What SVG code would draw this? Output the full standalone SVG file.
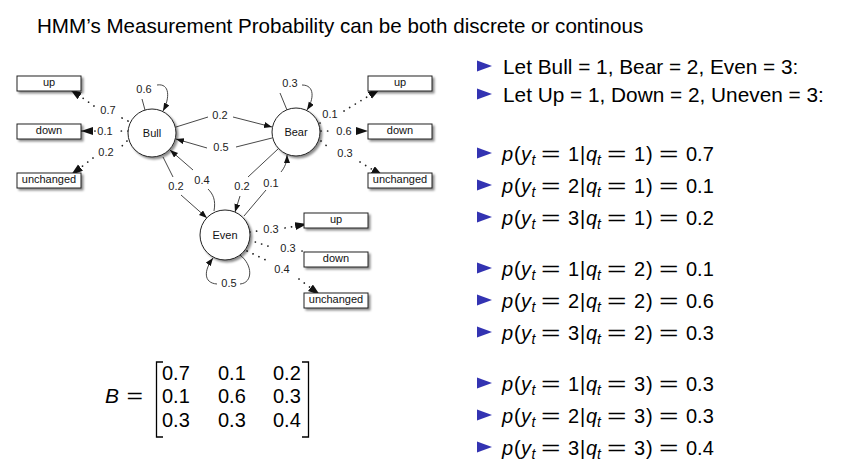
<svg xmlns="http://www.w3.org/2000/svg" width="844" height="467" viewBox="0 0 844 467">
<defs>
<style>
text{font-family:"Liberation Sans",Arial,Helvetica,sans-serif;fill:#000}
.title{font-size:20.6px}
.let{font-size:20.8px}
.eq text{font-size:20px}
.mi{font-style:italic}
.eq .sub{font-size:14px;font-style:italic}
.mat text{font-size:20px}
.lbl{font-size:11px;fill:#222;text-anchor:middle}
.node circle{fill:#fff;stroke:#222;stroke-width:1;filter:url(#sh)}
.box rect{fill:#fff;stroke:#222;stroke-width:1;filter:url(#sh)}
.node text,.box text{font-size:11px;text-anchor:middle;fill:#111}
.solid{fill:none;stroke:#333;stroke-width:0.9}
.dot{fill:none;stroke:#222;stroke-width:1.7;stroke-linecap:round;stroke-dasharray:0.1 6.5}
.brk{fill:none;stroke:#000;stroke-width:1.3}
.bul{fill:#3333b2}
</style>
<filter id="sh" x="-20%" y="-20%" width="150%" height="160%">
<feDropShadow dx="2" dy="2" stdDeviation="1" flood-color="#000" flood-opacity="0.45"/>
</filter>
<marker id="ah" markerUnits="userSpaceOnUse" markerWidth="9" markerHeight="7" refX="8" refY="3" orient="auto">
<path d="M0,0 L8,3 L0,6 z" fill="#111"/>
</marker>
<marker id="ahb" markerUnits="userSpaceOnUse" markerWidth="13" markerHeight="9" refX="12" refY="4" orient="auto">
<path d="M0,0 L12,4 L0,8 z" fill="#111"/>
</marker>
<polygon id="tri" class="bul" points="0,-5.5 15,0 0,5.5"/>
</defs>
<rect width="844" height="467" fill="#fff"/>

<text class="title" x="37" y="33">HMM’s Measurement Probability can be both discrete or continous</text>

<!-- connectors -->
<g id="connectors">
<!-- Bull self loop -->
<path class="solid" d="M145,110 L142,99"/>
<path class="solid" d="M157,85 C170,83 170,98 163,111" marker-end="url(#ah)"/>
<!-- Bear self loop -->
<path class="solid" d="M287,110 L280,93"/>
<path class="solid" d="M302,85 C315,85 314,99 307,110" marker-end="url(#ah)"/>
<!-- Even self loop -->
<path class="solid" d="M240,255 C253,265 253,283 240,284"/>
<path class="solid" d="M217,284 C203,283 204,270 213,258" marker-end="url(#ah)"/>
<!-- Bull -> Bear -->
<path class="solid" d="M176,127 L208,117"/>
<path class="solid" d="M233,117 L272,127" marker-end="url(#ah)"/>
<!-- Bear -> Bull -->
<path class="solid" d="M272,138 L236,147"/>
<path class="solid" d="M207,148 L176,139" marker-end="url(#ah)"/>
<!-- Bull -> Even -->
<path class="solid" d="M163,157 L173,177"/>
<path class="solid" d="M181,195 L207,218" marker-end="url(#ah)"/>
<!-- Even -> Bull -->
<path class="solid" d="M214,211 C216,200 213,194 208,189"/>
<path class="solid" d="M193,170 L170,150" marker-end="url(#ah)"/>
<!-- Bear -> Even -->
<path class="solid" d="M278,149 L248,177"/>
<path class="solid" d="M240,196 L235,212" marker-end="url(#ah)"/>
<!-- Even -> Bear -->
<path class="solid" d="M244,216 L266,190"/>
<path class="solid" d="M281,172 C285,167 287,162 287,155" marker-end="url(#ah)"/>

<!-- Bull emissions -->
<path class="dot" d="M128,121 L120,117"/>
<path class="dot" d="M94,106 L70,89" marker-end="url(#ahb)"/>
<path class="dot" d="M128,131 L118,131"/>
<path class="dot" d="M95,131 L81,131" marker-end="url(#ahb)"/>
<path class="dot" d="M127,141 L120,148"/>
<path class="dot" d="M93,158 L71,175" marker-end="url(#ahb)"/>
<!-- Bear emissions -->
<path class="dot" d="M320,123 L320.1,123"/>
<path class="dot" d="M344,111 L380,89" marker-end="url(#ahb)"/>
<path class="dot" d="M321,131 L331,131"/>
<path class="dot" d="M357,131 L368,131" marker-end="url(#ahb)"/>
<path class="dot" d="M321,141 L328,147"/>
<path class="dot" d="M360,162 L383,176" marker-end="url(#ahb)"/>
<!-- Even emissions -->
<path class="dot" d="M250,232 L258,231"/>
<path class="dot" d="M285,228 L307,224" marker-end="url(#ahb)"/>
<path class="dot" d="M249,240 L274,248"/>
<path class="dot" d="M302,251 L302.1,251"/>
<path class="dot" d="M247,251 L270,262"/>
<path class="dot" d="M299,279 L320,295" marker-end="url(#ahb)"/>

<!-- labels -->
<text class="lbl" x="144" y="93">0.6</text>
<text class="lbl" x="290" y="87">0.3</text>
<text class="lbl" x="229" y="287">0.5</text>
<text class="lbl" x="220" y="119">0.2</text>
<text class="lbl" x="221" y="151">0.5</text>
<text class="lbl" x="176" y="190">0.2</text>
<text class="lbl" x="202" y="184">0.4</text>
<text class="lbl" x="242" y="190">0.2</text>
<text class="lbl" x="271" y="187">0.1</text>
<text class="lbl" x="108" y="114">0.7</text>
<text class="lbl" x="105" y="135">0.1</text>
<text class="lbl" x="106" y="156">0.2</text>
<text class="lbl" x="330" y="118">0.1</text>
<text class="lbl" x="344" y="135">0.6</text>
<text class="lbl" x="345" y="157">0.3</text>
<text class="lbl" x="271" y="233">0.3</text>
<text class="lbl" x="288" y="252">0.3</text>
<text class="lbl" x="282" y="273">0.4</text>
</g>

<!-- state nodes -->
<g id="bull" class="node"><circle cx="152" cy="133" r="24"/><text x="152" y="137">Bull</text></g>
<g id="bear" class="node"><circle cx="296" cy="132" r="24"/><text x="296" y="136">Bear</text></g>
<g id="even" class="node"><circle cx="225" cy="235" r="25"/><text x="225" y="239">Even</text></g>

<!-- observation boxes -->
<g id="bull-up" class="box"><rect x="17" y="76" width="64" height="15"/><text x="49" y="86">up</text></g>
<g id="bull-down" class="box"><rect x="17" y="124" width="64" height="15"/><text x="49" y="134">down</text></g>
<g id="bull-unchanged" class="box"><rect x="17" y="173" width="64" height="15"/><text x="49" y="183">unchanged</text></g>
<g id="bear-up" class="box"><rect x="368" y="76" width="64" height="15"/><text x="400" y="86">up</text></g>
<g id="bear-down" class="box"><rect x="368" y="124" width="64" height="15"/><text x="400" y="134">down</text></g>
<g id="bear-unchanged" class="box"><rect x="368" y="173" width="64" height="15"/><text x="400" y="183">unchanged</text></g>
<g id="even-up" class="box"><rect x="304" y="213" width="64" height="15"/><text x="336" y="223">up</text></g>
<g id="even-down" class="box"><rect x="304" y="252" width="64" height="15"/><text x="336" y="262">down</text></g>
<g id="even-unchanged" class="box"><rect x="304" y="293" width="64" height="15"/><text x="336" y="303">unchanged</text></g>

<!-- matrix -->
<g class="mat">
<text x="105" y="403" class="mi" style="font-size:21px">B</text>
<text x="126.5" y="403" textLength="16.5" lengthAdjust="spacingAndGlyphs">=</text>
<path class="brk" d="M163,362 L156.5,362 L156.5,437 L163,437"/>
<path class="brk" d="M302,362 L308.5,362 L308.5,437 L302,437"/>
<text x="162" y="380">0.7</text><text x="218" y="380">0.1</text><text x="273" y="380">0.2</text>
<text x="162" y="403">0.1</text><text x="218" y="403">0.6</text><text x="273" y="403">0.3</text>
<text x="162" y="427">0.3</text><text x="218" y="427">0.3</text><text x="273" y="427">0.4</text>
</g>

<!-- right text -->
<use href="#tri" x="477" y="66"/>
<text class="let" x="503" y="74">Let Bull = 1, Bear = 2, Even = 3:</text>
<use href="#tri" x="477" y="94"/>
<text class="let" x="503" y="102">Let Up = 1, Down = 2, Uneven = 3:</text>

<g class="eq" transform="translate(0,161)"><use href="#tri" x="477" y="-8"/><text x="502" class="mi">p</text><text x="514">(</text><text x="521" class="mi">y</text><text x="531.5" y="4" class="sub">t</text><text x="541" textLength="19.5" lengthAdjust="spacingAndGlyphs">=</text><text x="568">1</text><text x="580">|</text><text x="586" class="mi">q</text><text x="597" y="4" class="sub">t</text><text x="607" textLength="19.5" lengthAdjust="spacingAndGlyphs">=</text><text x="634">1</text><text x="646">)</text><text x="659" textLength="19.5" lengthAdjust="spacingAndGlyphs">=</text><text x="686">0.7</text></g>
<g class="eq" transform="translate(0,193)"><use href="#tri" x="477" y="-8"/><text x="502" class="mi">p</text><text x="514">(</text><text x="521" class="mi">y</text><text x="531.5" y="4" class="sub">t</text><text x="541" textLength="19.5" lengthAdjust="spacingAndGlyphs">=</text><text x="568">2</text><text x="580">|</text><text x="586" class="mi">q</text><text x="597" y="4" class="sub">t</text><text x="607" textLength="19.5" lengthAdjust="spacingAndGlyphs">=</text><text x="634">1</text><text x="646">)</text><text x="659" textLength="19.5" lengthAdjust="spacingAndGlyphs">=</text><text x="686">0.1</text></g>
<g class="eq" transform="translate(0,225)"><use href="#tri" x="477" y="-8"/><text x="502" class="mi">p</text><text x="514">(</text><text x="521" class="mi">y</text><text x="531.5" y="4" class="sub">t</text><text x="541" textLength="19.5" lengthAdjust="spacingAndGlyphs">=</text><text x="568">3</text><text x="580">|</text><text x="586" class="mi">q</text><text x="597" y="4" class="sub">t</text><text x="607" textLength="19.5" lengthAdjust="spacingAndGlyphs">=</text><text x="634">1</text><text x="646">)</text><text x="659" textLength="19.5" lengthAdjust="spacingAndGlyphs">=</text><text x="686">0.2</text></g>

<g class="eq" transform="translate(0,276)"><use href="#tri" x="477" y="-8"/><text x="502" class="mi">p</text><text x="514">(</text><text x="521" class="mi">y</text><text x="531.5" y="4" class="sub">t</text><text x="541" textLength="19.5" lengthAdjust="spacingAndGlyphs">=</text><text x="568">1</text><text x="580">|</text><text x="586" class="mi">q</text><text x="597" y="4" class="sub">t</text><text x="607" textLength="19.5" lengthAdjust="spacingAndGlyphs">=</text><text x="634">2</text><text x="646">)</text><text x="659" textLength="19.5" lengthAdjust="spacingAndGlyphs">=</text><text x="686">0.1</text></g>
<g class="eq" transform="translate(0,308)"><use href="#tri" x="477" y="-8"/><text x="502" class="mi">p</text><text x="514">(</text><text x="521" class="mi">y</text><text x="531.5" y="4" class="sub">t</text><text x="541" textLength="19.5" lengthAdjust="spacingAndGlyphs">=</text><text x="568">2</text><text x="580">|</text><text x="586" class="mi">q</text><text x="597" y="4" class="sub">t</text><text x="607" textLength="19.5" lengthAdjust="spacingAndGlyphs">=</text><text x="634">2</text><text x="646">)</text><text x="659" textLength="19.5" lengthAdjust="spacingAndGlyphs">=</text><text x="686">0.6</text></g>
<g class="eq" transform="translate(0,340)"><use href="#tri" x="477" y="-8"/><text x="502" class="mi">p</text><text x="514">(</text><text x="521" class="mi">y</text><text x="531.5" y="4" class="sub">t</text><text x="541" textLength="19.5" lengthAdjust="spacingAndGlyphs">=</text><text x="568">3</text><text x="580">|</text><text x="586" class="mi">q</text><text x="597" y="4" class="sub">t</text><text x="607" textLength="19.5" lengthAdjust="spacingAndGlyphs">=</text><text x="634">2</text><text x="646">)</text><text x="659" textLength="19.5" lengthAdjust="spacingAndGlyphs">=</text><text x="686">0.3</text></g>

<g class="eq" transform="translate(0,391)"><use href="#tri" x="477" y="-8"/><text x="502" class="mi">p</text><text x="514">(</text><text x="521" class="mi">y</text><text x="531.5" y="4" class="sub">t</text><text x="541" textLength="19.5" lengthAdjust="spacingAndGlyphs">=</text><text x="568">1</text><text x="580">|</text><text x="586" class="mi">q</text><text x="597" y="4" class="sub">t</text><text x="607" textLength="19.5" lengthAdjust="spacingAndGlyphs">=</text><text x="634">3</text><text x="646">)</text><text x="659" textLength="19.5" lengthAdjust="spacingAndGlyphs">=</text><text x="686">0.3</text></g>
<g class="eq" transform="translate(0,423)"><use href="#tri" x="477" y="-8"/><text x="502" class="mi">p</text><text x="514">(</text><text x="521" class="mi">y</text><text x="531.5" y="4" class="sub">t</text><text x="541" textLength="19.5" lengthAdjust="spacingAndGlyphs">=</text><text x="568">2</text><text x="580">|</text><text x="586" class="mi">q</text><text x="597" y="4" class="sub">t</text><text x="607" textLength="19.5" lengthAdjust="spacingAndGlyphs">=</text><text x="634">3</text><text x="646">)</text><text x="659" textLength="19.5" lengthAdjust="spacingAndGlyphs">=</text><text x="686">0.3</text></g>
<g class="eq" transform="translate(0,455)"><use href="#tri" x="477" y="-8"/><text x="502" class="mi">p</text><text x="514">(</text><text x="521" class="mi">y</text><text x="531.5" y="4" class="sub">t</text><text x="541" textLength="19.5" lengthAdjust="spacingAndGlyphs">=</text><text x="568">3</text><text x="580">|</text><text x="586" class="mi">q</text><text x="597" y="4" class="sub">t</text><text x="607" textLength="19.5" lengthAdjust="spacingAndGlyphs">=</text><text x="634">3</text><text x="646">)</text><text x="659" textLength="19.5" lengthAdjust="spacingAndGlyphs">=</text><text x="686">0.4</text></g>
</svg>
